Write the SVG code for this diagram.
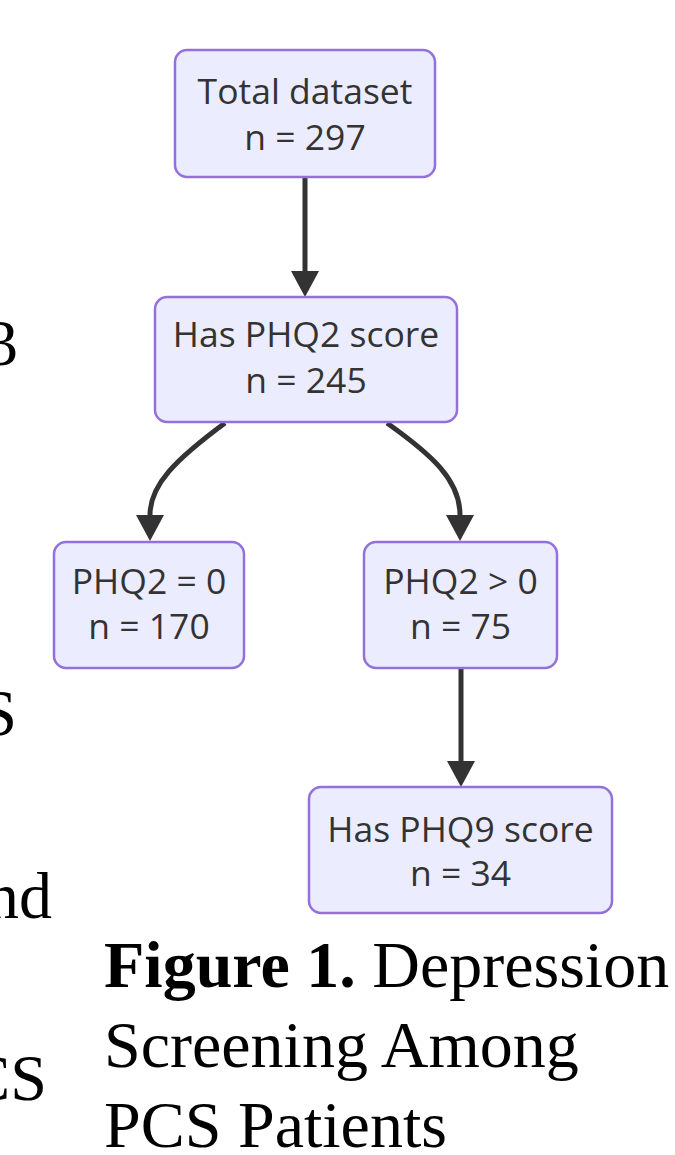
<svg xmlns="http://www.w3.org/2000/svg" width="675" height="1155" viewBox="0 0 675 1155">
  <style>
    .node rect { fill: #ECECFF; stroke: #9370DB; stroke-width: 2.5; }
    .node text { font-family: "Open Sans", "Liberation Sans", Arial, sans-serif; font-size: 35.5px; fill: #333333; text-anchor: middle; }
    .edge { fill: none; stroke: #333333; stroke-width: 5; }
    .serif { font-family: "Liberation Serif", "Times New Roman", serif; font-size: 66px; fill: #000000; }
    .frag { text-anchor: end; }
  </style>
  <defs>
    <marker id="arrow" markerUnits="userSpaceOnUse" markerWidth="28" markerHeight="28" refX="0" refY="14" orient="auto">
      <path d="M0,0 L26,14 L0,28 z" fill="#333333"/>
    </marker>
  </defs>
  <rect width="675" height="1155" fill="#FFFFFF"/>

  <g id="connectors">
    <path class="edge" d="M305,177 L305,271" marker-end="url(#arrow)"/>
    <path class="edge" d="M225,423 C175,460 150,485 150,515" marker-end="url(#arrow)"/>
    <path class="edge" d="M387,423 C432,455 460,480 460,515" marker-end="url(#arrow)"/>
    <path class="edge" d="M461,668 L461,761" marker-end="url(#arrow)"/>
  </g>

  <g id="node-total" class="node">
    <rect x="175" y="50" width="260" height="127" rx="12"/>
    <text x="305" y="104">Total dataset</text>
    <text x="305" y="150">n = 297</text>
  </g>
  <g id="node-phq2" class="node">
    <rect x="155" y="297" width="302" height="125" rx="12"/>
    <text x="306" y="347">Has PHQ2 score</text>
    <text x="306" y="393">n = 245</text>
  </g>
  <g id="node-phq2-zero" class="node">
    <rect x="54" y="542" width="190" height="126" rx="12"/>
    <text x="149" y="594">PHQ2 = 0</text>
    <text x="149" y="639">n = 170</text>
  </g>
  <g id="node-phq2-pos" class="node">
    <rect x="364" y="542" width="193" height="126" rx="12"/>
    <text x="460.5" y="594">PHQ2 &gt; 0</text>
    <text x="460.5" y="639">n = 75</text>
  </g>
  <g id="node-phq9" class="node">
    <rect x="309" y="787" width="303" height="126" rx="12"/>
    <text x="460.5" y="842">Has PHQ9 score</text>
    <text x="460.5" y="886">n = 34</text>
  </g>

  <g id="page-fragments" class="serif frag">
    <text x="18" y="365">3</text>
    <text x="17" y="735">S</text>
    <text x="52" y="918">nd</text>
    <text x="47" y="1100">CS</text>
  </g>

  <g id="caption" class="serif">
    <text x="104" y="987"><tspan font-weight="bold">Figure 1.</tspan> Depression</text>
    <text x="104" y="1067">Screening Among</text>
    <text x="104" y="1147">PCS Patients</text>
  </g>
</svg>
